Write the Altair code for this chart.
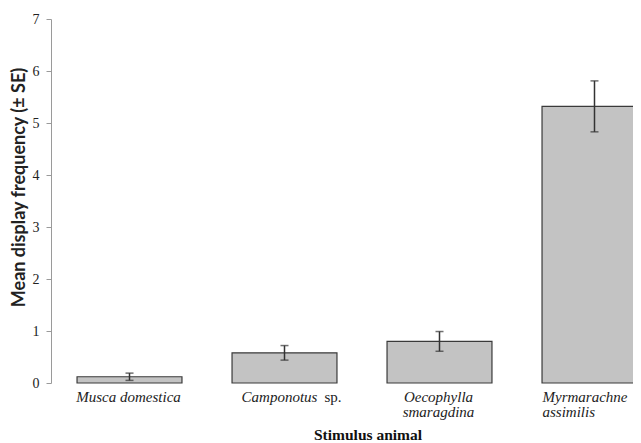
import altair as alt
import pandas as pd

categories = ["Musca domestica", "Camponotus sp.", "Oecophylla smaragdina", "Myrmarachne assimilis"]
means = [0.12, 0.58, 0.80, 5.32]
ses = [0.07, 0.14, 0.19, 0.49]
italic_line1 = ["Musca domestica", "Camponotus", "Oecophylla", "Myrmarachne"]
roman_suffix = ["", "sp.", "", ""]
italic_line2 = ["", "", "smaragdina", "assimilis"]
y_ticks = [0, 1, 2, 3, 4, 5, 6, 7]

df = pd.DataFrame({
    "cat": categories,
    "mean": means,
    "lo": [m - s for m, s in zip(means, ses)],
    "hi": [m + s for m, s in zip(means, ses)],
    "l1": italic_line1,
    "suf": roman_suffix,
    "l2": italic_line2,
})

SERIF = "Liberation Serif"
W, H = 582, 364

x = alt.X("cat:N", sort=categories,
          scale=alt.Scale(range=[0, 622], paddingInner=0.323, paddingOuter=0.168),
          axis=None)

base = alt.Chart(df)

bars = base.mark_bar(color="#c3c3c3", stroke="#3a3a3a", strokeWidth=1.2).encode(
    x=x,
    y=alt.Y("mean:Q", scale=alt.Scale(domain=[0, 7], nice=False),
            axis=alt.Axis(values=y_ticks, format="d", grid=False, domainColor="#9a9a9a",
                          tickColor="#9a9a9a", tickSize=5, labelFont=SERIF, labelFontSize=14,
                          labelColor="#222", labelPadding=7,
                          title="Mean display frequency (± SE)", titleFont="Lato",
                          titleFontWeight="bold", titleFontSize=18, titleColor="#222",
                          titleAngle=-90, titleX=-32, titleY=168, titleAlign="center",
                          titleBaseline="middle")),
)

err = base.mark_rule(color="#333", strokeWidth=1.5).encode(x=x, y="lo:Q", y2="hi:Q")
cap_hi = base.mark_tick(color="#333", size=8, thickness=1.5, orient="horizontal").encode(x=x, y="hi:Q")
cap_lo = base.mark_tick(color="#333", size=8, thickness=1.5, orient="horizontal").encode(x=x, y="lo:Q")

def txt(field, cats, dx, align, y, style="italic"):
    return base.transform_filter(
        alt.FieldOneOfPredicate(field="cat", oneOf=cats)
    ).mark_text(font=SERIF, fontSize=15, fontStyle=style, color="#222", align=align,
                baseline="middle", dx=dx).encode(x=x, y=alt.value(y), text=f"{field}:N")

t1 = txt("l1", [categories[0], categories[2]], -1, "center", 378)
t2 = txt("l2", [categories[2]], -1, "center", 393)
t3 = txt("l1", [categories[1]], -5, "center", 378)
t4 = txt("suf", [categories[1]], 40, "left", 378, style="normal")
t5 = txt("l1", [categories[3]], -52, "left", 378)
t6 = txt("l2", [categories[3]], -52, "left", 393)

title = alt.Chart(pd.DataFrame({"t": ["Stimulus animal"]})).mark_text(
    font=SERIF, fontSize=15.5, fontWeight="bold", color="#111", align="center", baseline="middle"
).encode(x=alt.value(317), y=alt.value(416), text="t:N")

chart = alt.layer(bars, err, cap_hi, cap_lo, t1, t2, t3, t4, t5, t6, title).properties(
    width=W, height=H,
    autosize=alt.AutoSizeParams(type="none"),
    padding={"left": 43, "top": 11, "right": 0, "bottom": 60},
).configure_view(stroke=None)

chart.save("out.html", embed_options={"renderer": "svg", "actions": False})
